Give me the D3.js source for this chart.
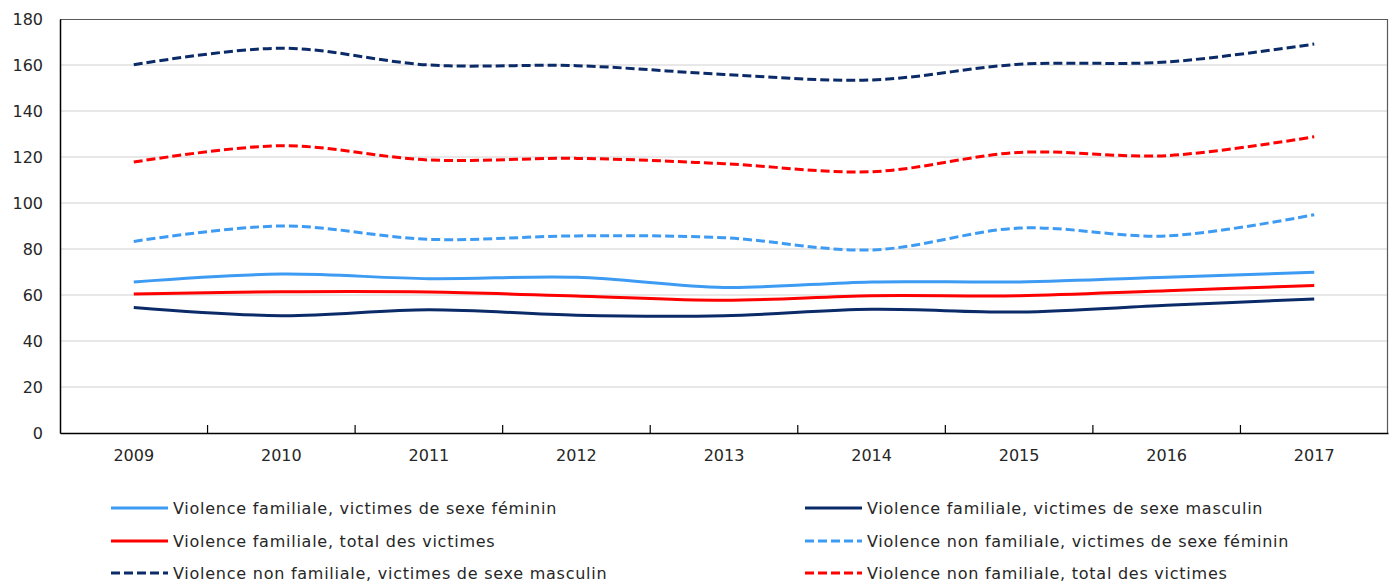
<!DOCTYPE html>
<html><head><meta charset="utf-8">
<script src="https://cdn.jsdelivr.net/npm/d3@7"></script>
<style>
html,body{margin:0;padding:0;background:#fff;}
svg{display:block;font-family:"DejaVu Sans",Verdana,sans-serif;}
</style></head>
<body><svg id="chart" width="1392" height="582"></svg>
<script>
const years = ["2009","2010","2011","2012","2013","2014","2015","2016","2017"];
const yTicks = [0,20,40,60,80,100,120,140,160,180];
const famFeminin   = [65.7,69.1,67.1,67.7,63.3,65.7,65.7,67.7,69.9];
const famMasculin  = [54.6,51.0,53.6,51.2,51.0,53.8,52.6,55.5,58.3];
const famTotal     = [60.4,61.4,61.3,59.6,57.7,59.7,59.7,61.9,64.1];
const nonFamFeminin  = [83.3,90.0,84.2,85.7,84.9,79.6,89.1,85.7,94.9];
const nonFamMasculin = [160.1,167.3,160.0,159.7,155.9,153.5,160.3,161.3,169.1];
const nonFamTotal    = [117.8,124.9,118.7,119.4,117.1,113.6,122.0,120.6,128.8];
const seriesNames = [
  "Violence familiale, victimes de sexe féminin",
  "Violence familiale, victimes de sexe masculin",
  "Violence familiale, total des victimes",
  "Violence non familiale, victimes de sexe féminin",
  "Violence non familiale, victimes de sexe masculin",
  "Violence non familiale, total des victimes"
];

const LIGHT="#3d9bf3", NAVY="#0b2a68", RED="#ff0000";
const series = [
  {name:seriesNames[0], values:famFeminin, color:LIGHT, dash:null},
  {name:seriesNames[1], values:famMasculin, color:NAVY, dash:null},
  {name:seriesNames[2], values:famTotal, color:RED, dash:null},
  {name:seriesNames[3], values:nonFamFeminin, color:LIGHT, dash:"9,4"},
  {name:seriesNames[4], values:nonFamMasculin, color:NAVY, dash:"9,4"},
  {name:seriesNames[5], values:nonFamTotal, color:RED, dash:"9,4"}
];

const svg = d3.select("#chart");
const L=60, R=1388, T=19, B=433;
const x = d3.scaleBand().domain(years).range([L,R]);
const xc = d => x(d)+x.bandwidth()/2;
const y = d3.scaleLinear().domain([0,180]).range([B,T]);

// gridlines
svg.append("g").selectAll("line").data(yTicks.filter(v=>v>0&&v<180)).join("line")
  .attr("x1",L).attr("x2",R).attr("y1",d=>y(d)).attr("y2",d=>y(d))
  .attr("stroke","#d0d0d0").attr("stroke-width",1);

// frame top/right
svg.append("path").attr("d",`M${L},${T+0.5}H${R-0.5}V${B}`).attr("fill","none")
  .attr("stroke","#595959").attr("stroke-width",1.2);

// y axis labels
const yAxis = d3.axisLeft(y).tickValues(yTicks).tickSize(0).tickPadding(17);
const gy = svg.append("g").attr("transform",`translate(${L},0)`).call(yAxis);
gy.select(".domain").attr("stroke","#000").attr("stroke-width",1.5);
gy.selectAll("text").attr("font-size","16px").attr("fill","#262626").attr("font-family","DejaVu Sans");

// x axis
const xAxis = d3.axisBottom(x).tickSize(0).tickPadding(17);
const gx = svg.append("g").attr("transform",`translate(0,${B})`).call(xAxis);
gx.select(".domain").attr("stroke","#000").attr("stroke-width",1.5);
gx.selectAll("text").attr("font-size","16px").attr("fill","#262626").attr("font-family","DejaVu Sans");
// category boundary ticks (inside)
svg.append("g").selectAll("line").data(years.slice(1)).join("line")
  .attr("x1",d=>x(d)).attr("x2",d=>x(d)).attr("y1",B-8).attr("y2",B)
  .attr("stroke","#000").attr("stroke-width",1.2);

// lines
const line = d3.line().x((d,i)=>xc(years[i])).y(d=>y(d)).curve(d3.curveCatmullRom.alpha(0.5));
const drawOrder = [4,5,3,0,2,1];
drawOrder.forEach(k=>{
  const s=series[k];
  svg.append("path").datum(s.values).attr("d",line)
    .attr("fill","none").attr("stroke",s.color).attr("stroke-width",3)
    .attr("stroke-dasharray",s.dash).attr("stroke-linejoin","round");
});

// legend
const legendPos = [
  {k:0,col:0,row:0},{k:1,col:1,row:0},
  {k:2,col:0,row:1},{k:3,col:1,row:1},
  {k:4,col:0,row:2},{k:5,col:1,row:2}
];
const colX=[111,805], rowY=[508,541,573];
const lg = svg.append("g");
legendPos.forEach(p=>{
  const s=series[p.k];
  const gx0=colX[p.col], gy0=rowY[p.row];
  lg.append("line").attr("x1",gx0).attr("x2",gx0+57).attr("y1",gy0).attr("y2",gy0)
    .attr("stroke",s.color).attr("stroke-width",3).attr("stroke-dasharray",s.dash);
  lg.append("text").attr("x",gx0+62).attr("y",gy0).attr("dy","0.35em")
    .attr("font-size","16px").attr("letter-spacing","0.75px").attr("fill","#262626").text(s.name);
});
</script></body></html>
